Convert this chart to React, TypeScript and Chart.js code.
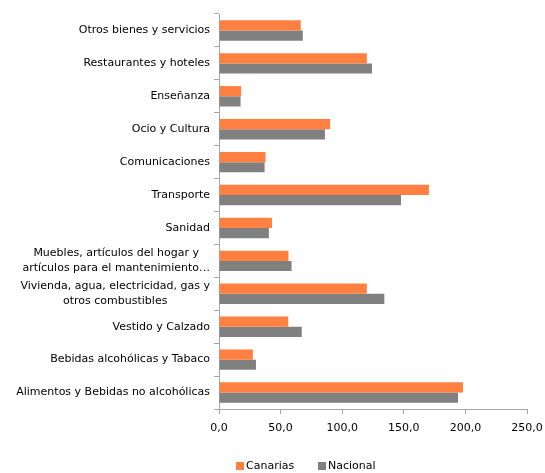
import React, { useEffect, useRef } from "react";
import { Chart, registerables } from "chart.js";

Chart.register(...registerables);

const categories: (string | string[])[] = [
  "Otros bienes y servicios",
  "Restaurantes y hoteles",
  "Enseñanza",
  "Ocio y Cultura",
  "Comunicaciones",
  "Transporte",
  "Sanidad",
  ["Muebles, artículos del hogar y", "artículos para el mantenimiento…"],
  ["Vivienda, agua, electricidad, gas y", "otros combustibles"],
  "Vestido y Calzado",
  "Bebidas alcohólicas y Tabaco",
  "Alimentos y Bebidas no alcohólicas",
];

const canarias = [66.4, 120.0, 18.0, 90.2, 37.8, 170.4, 43.0, 56.4, 120.0, 56.2, 27.5, 198.0];
const nacional = [68.0, 124.2, 17.5, 86.0, 37.0, 147.7, 40.5, 58.9, 134.2, 67.2, 30.0, 194.0];

const seriesNames = ["Canarias", "Nacional"];
const seriesColors = ["#FF8040", "#808080"];

const FONT = "'DejaVu Sans', Verdana, sans-serif";

const legendPlugin = {
  id: "customLegend",
  afterDraw(chart: any) {
    const ctx = chart.ctx;
    ctx.save();
    ctx.font = `11px ${FONT}`;
    ctx.textBaseline = "middle";
    ctx.textAlign = "left";
    const xs = [236, 318];
    seriesNames.forEach((name, i) => {
      ctx.fillStyle = seriesColors[i];
      ctx.fillRect(xs[i], 462, 8, 8);
      ctx.fillStyle = "#000";
      ctx.fillText(name, xs[i] + 10, 466);
    });
    ctx.restore();
  },
};

const yLabelPlugin = {
  id: "yLabels",
  afterDraw(chart: any) {
    const ctx = chart.ctx;
    const scale = chart.scales.y;
    const right = scale.right - 9;
    ctx.save();
    ctx.font = `11px ${FONT}`;
    ctx.fillStyle = "#000";
    ctx.textBaseline = "middle";
    categories.forEach((lab, i) => {
      const y = scale.getPixelForValue(i);
      const lines = Array.isArray(lab) ? lab : [lab];
      const maxW = Math.max(...lines.map((l) => ctx.measureText(l).width));
      const cx = right - maxW / 2;
      const lh = 14.5;
      lines.forEach((l, j) => {
        ctx.textAlign = "center";
        ctx.fillText(l, cx, y + (j - (lines.length - 1) / 2) * lh);
      });
    });
    ctx.restore();
  },
};

export default function App() {
  const ref = useRef<HTMLCanvasElement>(null);
  useEffect(() => {
    document.body.style.margin = "0";
    const chart = new Chart(ref.current!, {
      type: "bar",
      data: {
        labels: categories,
        datasets: [
          { label: seriesNames[0], data: canarias, backgroundColor: seriesColors[0], categoryPercentage: 0.62, barPercentage: 1 },
          { label: seriesNames[1], data: nacional, backgroundColor: seriesColors[1], categoryPercentage: 0.62, barPercentage: 1 },
        ],
      },
      options: {
        indexAxis: "y",
        animation: false,
        responsive: false,
        layout: { padding: { top: 14, right: 0, left: 0, bottom: 0 } },
        plugins: { legend: { display: false }, tooltip: { enabled: false } },
        scales: {
          x: {
            min: 0,
            max: 250,
            ticks: {
              stepSize: 50,
              color: "#000",
              font: { family: FONT, size: 11 },
              padding: 8,
              callback: (v: any) => Number(v).toFixed(1).replace(".", ","),
            },
            grid: { display: true, drawOnChartArea: false, tickLength: 5, color: "#A6A6A6" },
            border: { color: "#A6A6A6" },
            afterFit: (s: any) => { s.height = 64; s.paddingRight = 18; s.paddingLeft = 0; },
          },
          y: {
            ticks: { display: false },
            grid: { display: true, drawOnChartArea: false, tickLength: 5, color: "#A6A6A6" },
            border: { color: "#A6A6A6" },
            afterFit: (s: any) => { s.width = 219; s.paddingTop = 0; s.paddingBottom = 0; },
          },
        },
      },
      plugins: [legendPlugin, yLabelPlugin],
    });
    return () => chart.destroy();
  }, []);
  return (
    <div style={{ width: 545, height: 473 }}>
      <canvas ref={ref} width={545} height={473} style={{ display: "block" }} />
    </div>
  );
}
